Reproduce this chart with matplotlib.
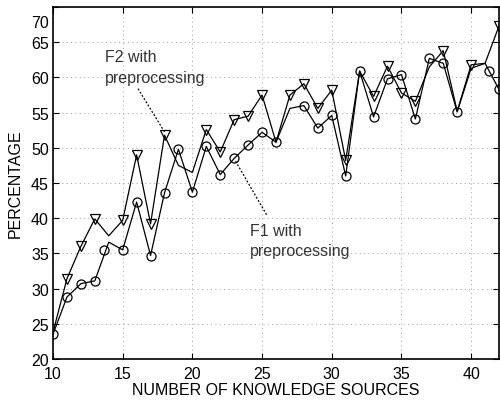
import matplotlib
matplotlib.use("Agg")
import matplotlib.pyplot as plt
from matplotlib.transforms import ScaledTranslation

plt.rcParams["font.family"] = ["Liberation Sans", "DejaVu Sans"]
plt.rcParams["font.size"] = 10

# number of knowledge sources (line vertices)
sources = list(range(10, 43))

f1_pct = [23.5, 28.8, 30.7, 31.1, 36.6, 35.5, 42.3, 34.7, 43.6, 49.8, 43.7,
          50.2, 46.2, 48.5, 50.4, 52.2, 50.8, 55.6, 56.0, 52.8, 54.6, 46.0,
          60.9, 54.4, 59.8, 60.4, 54.1, 62.7, 62.0, 55.1, 61.3, 62.0, 58.3]
f2_pct = [23.8, 31.4, 36.0, 39.9, 37.5, 39.7, 49.0, 39.2, 51.8, 47.5, 46.5,
          52.6, 49.4, 54.0, 54.5, 57.5, 50.8, 57.5, 59.1, 55.6, 58.2, 48.2,
          60.9, 57.3, 61.6, 57.8, 56.6, 61.5, 63.8, 55.2, 61.8, 62.0, 67.3]

# marker positions along each curve
f1_mark_x = [10, 11, 12, 13, 13.68, 15, 16, 17, 18, 19, 20, 21, 22, 23, 24,
             25, 26, 28, 29, 30, 31, 32, 33, 34, 35, 36, 37, 38, 39, 41.3, 42]
f1_mark_y = [23.5, 28.8, 30.7, 31.1, 35.5, 35.5, 42.3, 34.7, 43.6, 49.8, 43.7,
             50.2, 46.2, 48.5, 50.4, 52.2, 50.8, 56.0, 52.8, 54.6, 46.0, 60.9,
             54.4, 59.8, 60.4, 54.1, 62.7, 62.0, 55.1, 60.9, 58.3]
f2_mark_x = [11, 12, 13, 15, 16, 17, 18, 21, 22, 23, 24, 25, 27, 28, 29, 30,
             31, 33, 34, 35, 36, 38, 40, 42]
f2_mark_y = [31.4, 36.0, 39.9, 39.7, 49.0, 39.2, 51.8, 52.6, 49.4, 54.0, 54.5,
             57.5, 57.5, 59.1, 55.6, 58.2, 48.2, 57.3, 61.6, 57.8, 56.6, 63.8,
             61.8, 67.3]

x_ticks = [10, 15, 20, 25, 30, 35, 40]
y_ticks = [20, 25, 30, 35, 40, 45, 50, 55, 60, 65, 70]

fig = plt.figure(figsize=(5.0, 4.02), dpi=100)
ax = fig.add_axes([0.106, 0.1045, 0.892, 0.8755])

ax.plot(sources, f2_pct, color="black", lw=0.9, zorder=3)
ax.plot(sources, f1_pct, color="black", lw=0.9, zorder=3)
ax.plot(f2_mark_x, f2_mark_y, ls="none", marker="v", ms=7.5,
        mfc="none", mec="black", mew=0.9, zorder=4)
ax.plot(f1_mark_x, f1_mark_y, ls="none", marker="o", ms=6.5,
        mfc="none", mec="black", mew=0.9, zorder=4)

# labels with dotted leader lines
note = dict(color="#333333", va="center", ha="left", fontsize=11.5)
ax.text(13.7, 63.0, "F2 with", **note)
ax.text(13.7, 60.0, "preprocessing", **note)
ax.plot([16.1, 18.05], [58.4, 52.1], color="black", lw=0.9, ls=(0, (1.5, 1.5)))
ax.text(24.1, 38.3, "F1 with", **note)
ax.text(24.1, 35.4, "preprocessing", **note)
ax.plot([23.1, 25.35], [48.1, 40.4], color="black", lw=0.9, ls=(0, (1.5, 1.5)))

ax.set_xlim(10, 42)
ax.set_ylim(20, 70)
ax.set_xticks(x_ticks)
ax.set_yticks(y_ticks)
ax.grid(True, color="0.6", ls=(0, (1, 3.5)), lw=0.7)
ax.tick_params(direction="in", length=4, width=0.8, top=True, right=True,
               labelsize=11.5)
ax.tick_params(axis="x", pad=5)
ax.tick_params(axis="y", pad=3)
for spine in ax.spines.values():
    spine.set_linewidth(1.2)

ax.set_xlabel("NUMBER OF KNOWLEDGE SOURCES", fontsize=11.5)
ax.set_ylabel("PERCENTAGE", fontsize=11.5)
ax.xaxis.set_label_coords(0.5, -0.066)
ax.yaxis.set_label_coords(-0.068, 0.5)

# keep the top y label inside the figure
top_label = ax.get_yticklabels()[-1]
top_label.set_transform(top_label.get_transform()
                        + ScaledTranslation(0, -0.135, fig.dpi_scale_trans))

fig.savefig("out.png", dpi=100)
